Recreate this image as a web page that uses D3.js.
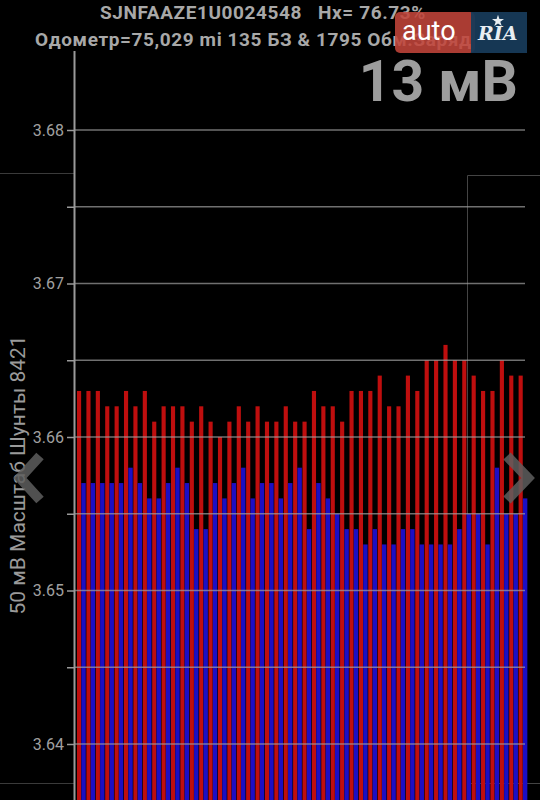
<!DOCTYPE html>
<html>
<head>
<meta charset="utf-8">
<script src="https://cdn.jsdelivr.net/npm/d3@7"></script>
<style>
  html, body { margin: 0; padding: 0; background: #000; }
  svg { display: block; }
</style>
</head>
<body>
<svg id="chart" width="540" height="800"></svg>
<script>
// ---- data ----
const cells = d3.range(1, 49);
const maxValues = [
  3.663,3.663,3.663,3.662,3.662,3.663,3.662,3.663,3.661,3.662,3.662,3.662,3.661,3.662,3.661,3.660,
  3.661,3.662,3.661,3.662,3.661,3.661,3.662,3.661,3.661,3.663,3.662,3.662,3.661,3.663,3.663,3.663,
  3.664,3.662,3.662,3.664,3.663,3.665,3.665,3.666,3.665,3.665,3.664,3.663,3.663,3.665,3.664,3.664
];
const minValues = [
  3.657,3.657,3.657,3.657,3.657,3.658,3.657,3.656,3.656,3.657,3.658,3.657,3.654,3.654,3.657,3.656,
  3.657,3.658,3.656,3.657,3.657,3.656,3.657,3.658,3.654,3.657,3.656,3.655,3.654,3.654,3.653,3.654,
  3.653,3.653,3.654,3.654,3.653,3.653,3.653,3.653,3.654,3.655,3.655,3.653,3.658,3.655,3.655,3.656
];
const majorTicks = [3.64, 3.65, 3.66, 3.67, 3.68];
const tickLabels = ["3.64", "3.65", "3.66", "3.67", "3.68"];
const gridValues = [3.64, 3.645, 3.65, 3.655, 3.66, 3.665, 3.67, 3.675, 3.68];
const titleLine1 = "SJNFAAZE1U0024548   Hx= 76.73%";
const titleLine2 = "Одометр=75,029 mi 135 БЗ & 1795 Обм.Заряд";
const bigLabel = "13 мВ";
const axisLabel = "50 мВ Масштаб  Шунты 8421";

// ---- scales ----
const svg = d3.select("#chart");
const y = d3.scaleLinear().domain([3.64, 3.68]).range([744, 130]);
const yBottom = 800;
const x = d3.scaleBand().domain(cells).range([76, 527]).padding(0);
const bw = x.bandwidth();

const font = "Roboto, 'DejaVu Sans', sans-serif";

// decorative frame lines
svg.append("line").attr("x1", 0).attr("x2", 74).attr("y1", 173.5).attr("y2", 173.5)
  .attr("stroke", "#3a3a3a").attr("stroke-width", 1);
svg.append("line").attr("x1", 0).attr("x2", 74).attr("y1", 783.5).attr("y2", 783.5)
  .attr("stroke", "#3a3a3a").attr("stroke-width", 1);
svg.append("path").attr("d", "M540,175.5H467.5V783.5H540")
  .attr("fill", "none").attr("stroke", "#444").attr("stroke-width", 1);

// bars
const g = svg.append("g");
g.selectAll("rect.max").data(cells).join("rect")
  .attr("class", "max")
  .attr("x", d => x(d) + 1)
  .attr("width", bw * 0.44)
  .attr("y", (d, i) => y(maxValues[i]))
  .attr("height", (d, i) => yBottom - y(maxValues[i]))
  .attr("fill", "#bf0e0e");
g.selectAll("rect.min").data(cells).join("rect")
  .attr("class", "min")
  .attr("x", d => x(d) + 1 + bw * 0.46)
  .attr("width", bw * 0.47)
  .attr("y", (d, i) => y(minValues[i]))
  .attr("height", (d, i) => yBottom - y(minValues[i]))
  .attr("fill", "#1c0ec4");

// gridlines (drawn over bars)
svg.append("g").selectAll("line").data(gridValues).join("line")
  .attr("x1", 74).attr("x2", 525)
  .attr("y1", d => y(d)).attr("y2", d => y(d))
  .attr("stroke", "#a0a0a0").attr("stroke-width", 1.5).attr("opacity", 0.7);

// y axis
const axis = d3.axisLeft(y).tickValues(gridValues).tickSize(7).tickPadding(3)
  .tickFormat(d => { const i = majorTicks.findIndex(t => Math.abs(t - d) < 1e-9); return i >= 0 ? tickLabels[i] : ""; });
const ag = svg.append("g").attr("transform", "translate(74,0)").call(axis);
ag.select(".domain").remove();
ag.selectAll(".tick line").attr("stroke", "#9a9a9a").attr("stroke-width", 1.5);
ag.selectAll(".tick text").attr("fill", "#a0a0a0").attr("font-family", font).attr("font-size", 16);
svg.append("line").attr("x1", 74.5).attr("x2", 74.5).attr("y1", 51).attr("y2", 800)
  .attr("stroke", "#9a9a9a").attr("stroke-width", 2);

// rotated axis label
svg.append("text").attr("transform", "translate(25,475) rotate(-90)")
  .attr("text-anchor", "middle").attr("fill", "#9a9a9a")
  .attr("font-family", font).attr("font-size", 21).text(axisLabel);

// titles
svg.append("text").attr("x", 100).attr("y", 18.5).attr("fill", "#a8a8a8")
  .attr("font-family", font).attr("font-weight", "bold").attr("font-size", 19).attr("letter-spacing", 0.6)
  .style("white-space", "pre").text(titleLine1);
svg.append("text").attr("x", 35).attr("y", 46).attr("fill", "#a8a8a8")
  .attr("font-family", font).attr("font-weight", "bold").attr("font-size", 19).attr("letter-spacing", 0.6)
  .text(titleLine2);
svg.append("text").attr("x", 518).attr("y", 101).attr("text-anchor", "end").attr("fill", "#9d9d9d")
  .attr("font-family", font).attr("font-weight", "bold").attr("font-size", 57).text(bigLabel);

// navigation chevrons
svg.append("path").attr("d", "M40,456 L20,478 L40,500")
  .attr("fill", "none").attr("stroke", "#5e5e5e").attr("stroke-width", 10).attr("opacity", 0.85);
svg.append("path").attr("d", "M507,456 L528,478 L507,500")
  .attr("fill", "none").attr("stroke", "#5e5e5e").attr("stroke-width", 10).attr("opacity", 0.85);

// watermark logo
const logo = svg.append("g");
logo.append("rect").attr("x", 395).attr("y", 12).attr("width", 80).attr("height", 41).attr("rx", 5)
  .attr("fill", "#c2443a").attr("opacity", 0.88);
logo.append("rect").attr("x", 471).attr("y", 12).attr("width", 56).attr("height", 41)
  .attr("fill", "#173a58").attr("opacity", 0.95);
logo.append("text").attr("x", 402).attr("y", 40).attr("fill", "#fff")
  .attr("font-family", font).attr("font-size", 27).text("auto");
logo.append("text").attr("x", 478).attr("y", 40).attr("fill", "#e8eef2")
  .attr("font-family", "'DejaVu Serif', serif").attr("font-weight", "bold").attr("font-style", "italic")
  .attr("font-size", 19).text("RIA");
logo.append("path").attr("d", d3.symbol(d3.symbolStar, 45)()).attr("transform", "translate(498,21)")
  .attr("fill", "#e8eef2");
</script>
</body>
</html>
